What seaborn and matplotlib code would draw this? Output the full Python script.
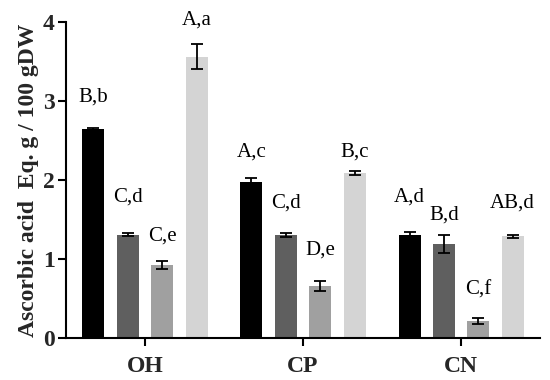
import matplotlib
matplotlib.use("Agg")
import matplotlib.pyplot as plt
import seaborn as sns
import pandas as pd
import numpy as np

groups = ["OH", "CP", "CN"]
series = ["S1", "S2", "S3", "S4"]
colors = ["#000000", "#5f5f5f", "#a0a0a0", "#d4d4d4"]

# values per series (OH, CP, CN)
s1_mean = [2.64, 1.98, 1.31]
s2_mean = [1.31, 1.31, 1.19]
s3_mean = [0.92, 0.66, 0.215]
s4_mean = [3.56, 2.09, 1.29]
s1_err = [0.02, 0.05, 0.03]
s2_err = [0.015, 0.025, 0.12]
s3_err = [0.05, 0.06, 0.04]
s4_err = [0.16, 0.03, 0.02]

s1_lab = ["B,b", "A,c", "A,d"]
s2_lab = ["C,d", "C,d", "B,d"]
s3_lab = ["C,e", "D,e", "C,f"]
s4_lab = ["A,a", "B,c", "AB,d"]
s1_laby = [3.05, 2.35, 1.78]
s2_laby = [1.78, 1.71, 1.56]
s3_laby = [1.29, 1.11, 0.61]
s4_laby = [4.03, 2.35, 1.71]

means = [s1_mean, s2_mean, s3_mean, s4_mean]
errs = [s1_err, s2_err, s3_err, s4_err]
labs = [s1_lab, s2_lab, s3_lab, s4_lab]
labys = [s1_laby, s2_laby, s3_laby, s4_laby]

rows = []
for s, m in zip(series, means):
    for g, v in zip(groups, m):
        rows.append({"group": g, "series": s, "value": v})
df = pd.DataFrame(rows)

sns.set_style("ticks")
plt.rcParams["font.family"] = ["Liberation Serif", "DejaVu Serif"]

fig = plt.figure(figsize=(5.5, 3.8), dpi=100)
ax = fig.add_axes([0.12, 0.1105, 0.862, 0.8315])

sns.barplot(data=df, x="group", y="value", hue="series", order=groups,
            hue_order=series, palette=colors, width=0.87, gap=0.36,
            errorbar=None, legend=False, ax=ax, saturation=1, linewidth=0)

for cont, e, lab, ly in zip(ax.containers, errs, labs, labys):
    xs = [p.get_x() + p.get_width() / 2 for p in cont.patches]
    hs = [p.get_height() for p in cont.patches]
    ax.errorbar(xs, hs, yerr=e, fmt="none", ecolor="black", elinewidth=1.3,
                capsize=4, capthick=1.3, zorder=5)
    for x, t, y in zip(xs, lab, ly):
        ax.text(x, y, t, ha="center", va="center", fontsize=15, color="black")

ax.set_ylim(0, 4)
ax.set_xlim(-0.5, 2.5)
ax.set_yticks([0, 1, 2, 3, 4])
ax.set_xlabel("")
ax.set_ylabel("Ascorbic acid  Eq. g / 100 gDW", fontsize=17, fontweight="bold",
              labelpad=3)
for sp in ["top", "right"]:
    ax.spines[sp].set_visible(False)
for sp in ["left", "bottom"]:
    ax.spines[sp].set_linewidth(1.5)
    ax.spines[sp].set_color("black")
ax.tick_params(axis="both", width=1.5, length=6, color="black")
ax.tick_params(axis="y", labelsize=17, pad=2)
ax.tick_params(axis="x", labelsize=17, pad=7)
for t in ax.get_yticklabels() + ax.get_xticklabels():
    t.set_fontweight("bold")

fig.savefig("out.png", dpi=100)
